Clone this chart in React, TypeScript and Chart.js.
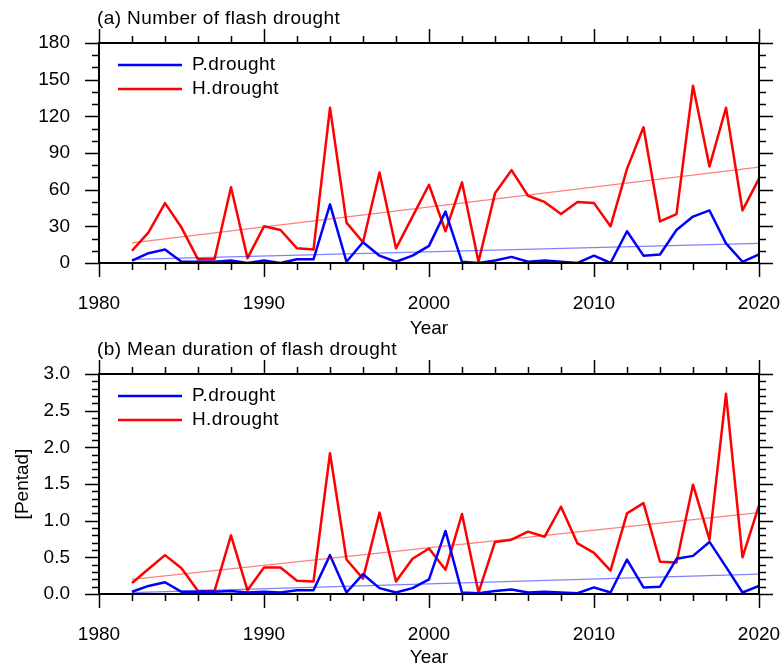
import React, { useEffect, useRef } from 'react';
import { Chart, registerables } from 'chart.js';

Chart.register(...registerables);

// ---------- data ----------
const years = [
  1982, 1983, 1984, 1985, 1986, 1987, 1988, 1989, 1990, 1991, 1992, 1993, 1994,
  1995, 1996, 1997, 1998, 1999, 2000, 2001, 2002, 2003, 2004, 2005, 2006, 2007,
  2008, 2009, 2010, 2011, 2012, 2013, 2014, 2015, 2016, 2017, 2018, 2019, 2020,
];

const numP = [
  2, 8, 11, 1, 1, 1, 2, 0, 2, 0, 3, 3, 48,
  1, 17, 6, 1, 6, 14, 42, 1, 0, 2, 5, 1, 2,
  1, 0, 6, 0, 26, 6, 7, 27, 38, 43, 16, 1, 7,
];
const numH = [
  10, 25, 49, 29, 3, 3, 62, 4, 30, 27, 12, 11, 127,
  33, 17, 74, 12, 38, 64, 26, 66, 1, 57, 76, 55, 50,
  40, 50, 49, 30, 77, 111, 34, 40, 145, 79, 127, 43, 69,
];

const durP = [
  0.03, 0.11, 0.16, 0.03, 0.03, 0.03, 0.04, 0.02, 0.03, 0.02, 0.05, 0.05, 0.53,
  0.02, 0.27, 0.08, 0.02, 0.08, 0.2, 0.86, 0.02, 0.01, 0.04, 0.06, 0.02, 0.03,
  0.02, 0.01, 0.09, 0.02, 0.47, 0.09, 0.1, 0.48, 0.52, 0.71, 0.37, 0.02, 0.11,
];
const durH = [
  0.15, 0.34, 0.53, 0.35, 0.04, 0.04, 0.8, 0.05, 0.36, 0.36, 0.18, 0.17, 1.92,
  0.47, 0.21, 1.11, 0.17, 0.48, 0.62, 0.33, 1.09, 0.02, 0.71, 0.74, 0.85, 0.78,
  1.19, 0.69, 0.56, 0.32, 1.1, 1.24, 0.44, 0.43, 1.49, 0.74, 2.73, 0.5, 1.21,
];

// linear trend end points
const trendYears = [1982, 2020];
const numTrendP = [3, 16];
const numTrendH = [16.5, 78.5];
const durTrendP = [0.02, 0.27];
const durTrendH = [0.2, 1.11];

const seriesLabels = ['P.drought', 'H.drought'];
const titleA = '(a) Number of flash drought';
const titleB = '(b) Mean duration of flash drought';
const xTitle = 'Year';
const yTitleB = '[Pentad]';

const FONT = "'Liberation Sans', Arial, Helvetica, sans-serif";
const BLUE = '#0000ff';
const RED = '#ff0000';

// ---------- plugin: frame, tick marks, panel title, legend ----------
const framePlugin = {
  id: 'frame',
  afterDraw(chart: any, _args: any, opts: any) {
    const { ctx, chartArea } = chart;
    const { left, right, top, bottom } = chartArea;
    const xs = chart.scales.x;
    const ys = chart.scales.y;
    ctx.save();
    ctx.strokeStyle = '#000';
    ctx.lineCap = 'butt';
    // tick marks
    ctx.lineWidth = 1.5;
    ctx.beginPath();
    xs.ticks.forEach((t: any) => {
      const px = Math.round(xs.getPixelForValue(t.value)) + 0.5;
      const len = t.label ? 14 : 7;
      ctx.moveTo(px, bottom);
      ctx.lineTo(px, bottom + len);
      ctx.moveTo(px, top);
      ctx.lineTo(px, top - len);
    });
    ys.ticks.forEach((t: any) => {
      const py = Math.round(ys.getPixelForValue(t.value)) + 0.5;
      const len = t.label ? 14 : 7;
      ctx.moveTo(left, py);
      ctx.lineTo(left - len, py);
      ctx.moveTo(right, py);
      ctx.lineTo(right + len, py);
    });
    ctx.stroke();
    // border
    ctx.lineWidth = 2;
    ctx.strokeRect(left, top, right - left, bottom - top);

    // panel title
    ctx.fillStyle = '#000';
    ctx.font = `19px ${FONT}`;
    (ctx as any).letterSpacing = '0.4px';
    ctx.textBaseline = 'middle';
    ctx.textAlign = 'left';
    ctx.fillText(opts.title, left - 2, top - 24);

    // legend
    const ds = chart.data.datasets.filter((d: any) => d.inLegend);
    ds.forEach((d: any, i: number) => {
      const y = top + 22 + i * 24;
      ctx.strokeStyle = d.borderColor;
      ctx.lineWidth = 2.5;
      ctx.beginPath();
      ctx.moveTo(left + 19, y);
      ctx.lineTo(left + 83, y);
      ctx.stroke();
      ctx.fillStyle = '#000';
      ctx.fillText(d.label, left + 93, y);
    });
    ctx.restore();
  },
};

function makeDatasets(p: number[], h: number[], tp: number[], th: number[]) {
  const pts = (vals: number[], xsArr: number[]) => xsArr.map((x, i) => ({ x, y: vals[i] }));
  return [
    {
      label: seriesLabels[0], inLegend: true,
      data: pts(p, years), borderColor: BLUE, borderWidth: 2.5,
      borderJoinStyle: 'round', pointRadius: 0, tension: 0, order: 2,
    },
    {
      label: seriesLabels[1], inLegend: true,
      data: pts(h, years), borderColor: RED, borderWidth: 2.5,
      borderJoinStyle: 'round', pointRadius: 0, tension: 0, order: 3,
    },
    {
      label: 'P trend', inLegend: false,
      data: pts(tp, trendYears), borderColor: 'rgba(0,0,255,0.5)', borderWidth: 1.2,
      pointRadius: 0, order: 0,
    },
    {
      label: 'H trend', inLegend: false,
      data: pts(th, trendYears), borderColor: 'rgba(255,0,0,0.5)', borderWidth: 1.2,
      pointRadius: 0, order: 1,
    },
  ];
}

function makeConfig(opts: {
  p: number[]; h: number[]; tp: number[]; th: number[];
  yMax: number; yStep: number; yMajor: number; decimals: number;
  title: string; yTitle: string | null; padTop: number; xHeight: number;
}): any {
  const isMajor = (v: number, m: number) => Math.abs(v / m - Math.round(v / m)) < 1e-6;
  return {
    type: 'line',
    data: { datasets: makeDatasets(opts.p, opts.h, opts.tp, opts.th) },
    options: {
      responsive: false,
      animation: false,
      devicePixelRatio: 1,
      layout: { padding: { left: 0, right: 22, top: opts.padTop, bottom: 0 } },
      plugins: {
        legend: { display: false },
        title: { display: false },
        tooltip: { enabled: false },
        frame: { title: opts.title },
      },
      scales: {
        x: {
          type: 'linear', min: 1980, max: 2020,
          grid: { display: false, drawTicks: false },
          border: { display: false },
          ticks: {
            stepSize: 2, autoSkip: false, maxRotation: 0, padding: 29,
            color: '#000', font: { family: FONT, size: 19 },
            callback: (v: number) => (isMajor(v, 10) ? String(v) : ''),
          },
          title: {
            display: true, text: xTitle, color: '#000',
            font: { family: FONT, size: 19 }, padding: { top: 0, bottom: 0 },
          },
          afterFit: (s: any) => {
            s.height = opts.xHeight;
            s.paddingLeft = 0; s.paddingRight = 0; s.paddingTop = 0; s.paddingBottom = 0;
          },
        },
        y: {
          type: 'linear', min: 0, max: opts.yMax,
          grid: { display: false, drawTicks: false },
          border: { display: false },
          ticks: {
            stepSize: opts.yStep, autoSkip: false, padding: 29,
            color: '#000', font: { family: FONT, size: 19 },
            callback: (v: number) => (isMajor(v, opts.yMajor) ? v.toFixed(opts.decimals) : ''),
          },
          title: {
            display: !!opts.yTitle, text: opts.yTitle || '', color: '#000',
            font: { family: FONT, size: 19 }, padding: { top: 11, bottom: 0 },
          },
          afterFit: (s: any) => {
            s.width = 99;
            s.paddingLeft = 0; s.paddingRight = 0; s.paddingTop = 0; s.paddingBottom = 0;
          },
        },
      },
    },
    plugins: [framePlugin],
  };
}

export default function App() {
  const refA = useRef<HTMLCanvasElement>(null);
  const refB = useRef<HTMLCanvasElement>(null);

  useEffect(() => {
    Chart.defaults.font.family = FONT;
    Chart.defaults.color = '#000';
    const a = new Chart(refA.current as HTMLCanvasElement, makeConfig({
      p: numP, h: numH, tp: numTrendP, th: numTrendH,
      yMax: 180, yStep: 10, yMajor: 30, decimals: 0,
      title: titleA, yTitle: null, padTop: 43, xHeight: 77,
    }));
    const b = new Chart(refB.current as HTMLCanvasElement, makeConfig({
      p: durP, h: durH, tp: durTrendP, th: durTrendH,
      yMax: 3, yStep: 0.1, yMajor: 0.5, decimals: 1,
      title: titleB, yTitle: yTitleB, padTop: 34, xHeight: 75,
    }));
    return () => { a.destroy(); b.destroy(); };
  }, []);

  return (
    <div style={{ position: 'absolute', left: 0, top: 0, width: 781, height: 669, background: '#fff' }}>
      <canvas ref={refA} width={781} height={340} style={{ display: 'block', width: 781, height: 340 }} />
      <canvas ref={refB} width={781} height={329} style={{ display: 'block', width: 781, height: 329 }} />
    </div>
  );
}
